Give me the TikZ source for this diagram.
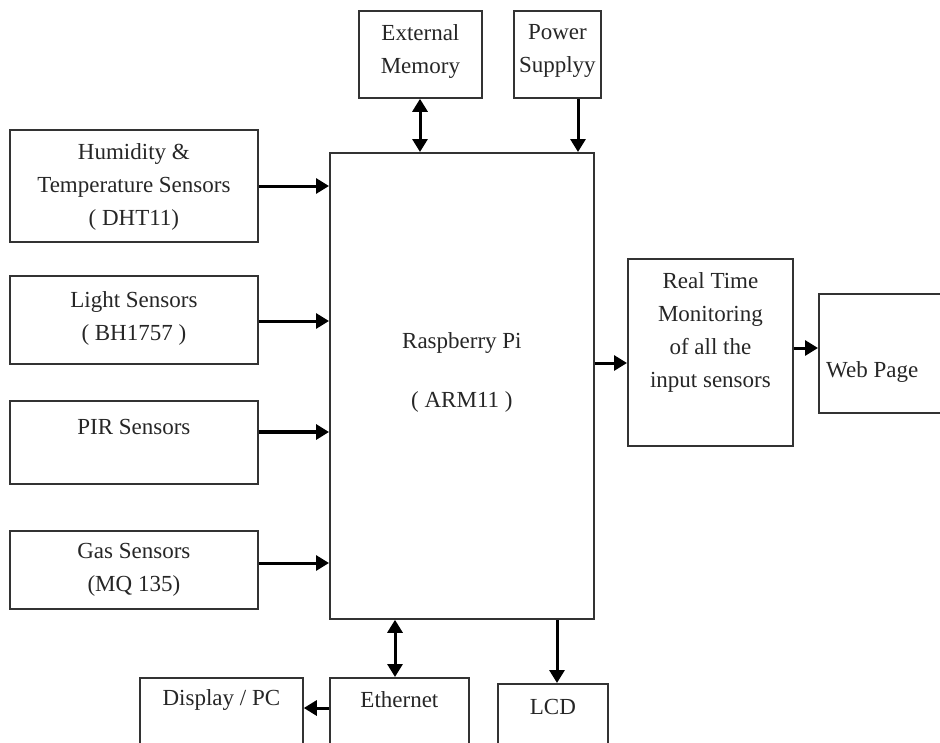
\documentclass[tikz,border=0pt]{standalone}
\usepackage{fontspec}
\setmainfont{Liberation Serif}
\usetikzlibrary{arrows.meta}
\begin{document}
\begin{tikzpicture}[x=1pt,y=-1pt,
  box/.style={draw=black!80, line width=1.8pt, inner sep=0pt, anchor=north west},
  txt/.style={align=center, font=\fontsize{23}{33}\selectfont, inner sep=0pt, text=black!85},
  arr/.style={line width=3pt, -{Triangle[length=13pt,width=15pt]}},
  darr/.style={line width=3pt, {Triangle[length=13pt,width=15pt]}-{Triangle[length=13pt,width=15pt]}}]
\useasboundingbox (0,0) rectangle (940,742);
\clip (0,0) rectangle (940,742);
% boxes
\node[box, minimum width=123pt, minimum height=87pt] (mem) at (358,10) {};
\node[box, minimum width=87pt, minimum height=87pt] (pow) at (513,10) {};
\node[box, minimum width=248pt, minimum height=112pt] (hum) at (9,129) {};
\node[box, minimum width=248pt, minimum height=88pt] (light) at (9,275) {};
\node[box, minimum width=248pt, minimum height=83pt] (pir) at (9,400) {};
\node[box, minimum width=248pt, minimum height=78pt] (gas) at (9,530) {};
\node[box, minimum width=264pt, minimum height=466pt] (rpi) at (329,152) {};
\node[box, minimum width=165pt, minimum height=187pt] (rtm) at (627,258) {};
\node[box, minimum width=160pt, minimum height=119pt] (web) at (818,293) {};
\node[box, minimum width=163pt, minimum height=100pt] (disp) at (139,677) {};
\node[box, minimum width=139pt, minimum height=100pt] (eth) at (329,677) {};
\node[box, minimum width=110pt, minimum height=100pt] (lcd) at (497,683) {};
% texts
\node[txt] (memt) at ([yshift=-41pt]mem.north) {External\\Memory};
\node[txt] (powt) at ([yshift=-41pt]pow.north) {Power\\Supplyy};
\node[txt] (humt) at ([yshift=-58pt]hum.north) {Humidity \&\\Temperature Sensors\\( DHT11)};
\node[txt] (lightt) at ([yshift=-43pt]light.north) {Light Sensors\\( BH1757 )};
\node[txt] (pirt) at ([yshift=-27pt]pir.north) {PIR Sensors};
\node[txt] (gast) at ([yshift=-40pt]gas.north) {Gas Sensors\\(MQ 135)};
\node[txt] (rpit) at ([yshift=-220pt]rpi.north) {Raspberry Pi\\[26pt]( ARM11 )};
\node[txt] (rtmt) at ([yshift=-74pt]rtm.north) {Real Time\\Monitoring\\of all the\\input sensors};
\node[txt, anchor=west] (webt) at ([xshift=8pt,yshift=-79pt]web.north west) {Web Page};
\node[txt] (dispt) at ([yshift=-23pt]disp.north) {Display / PC};
\node[txt] (etht) at ([yshift=-23pt]eth.north) {Ethernet};
\node[txt] (lcdt) at ([yshift=-24pt]lcd.north) {LCD};
% connector guides
\coordinate (y1) at (0,186);
\coordinate (y2) at (0,321);
\coordinate (y3) at (0,432);
\coordinate (y4) at (0,563);
\coordinate (y5) at (0,363);
\coordinate (y6) at (0,348);
\coordinate (y7) at (0,708);
\coordinate (x1) at (420,0);
\coordinate (x2) at (578,0);
\coordinate (x3) at (395,0);
\coordinate (x4) at (557,0);
% connectors
\draw[arr] (hum.east |- y1) -- (rpi.west |- y1);
\draw[arr] (light.east |- y2) -- (rpi.west |- y2);
\draw[arr, line width=4pt] (pir.east |- y3) -- (rpi.west |- y3);
\draw[arr] (gas.east |- y4) -- (rpi.west |- y4);
\draw[darr] (mem.south -| x1) -- (rpi.north -| x1);
\draw[arr] (pow.south -| x2) -- (rpi.north -| x2);
\draw[arr] (rpi.east |- y5) -- (rtm.west |- y5);
\draw[arr] (rtm.east |- y6) -- (web.west |- y6);
\draw[darr] (rpi.south -| x3) -- (eth.north -| x3);
\draw[arr] (rpi.south -| x4) -- (lcd.north -| x4);
\draw[arr] (eth.west |- y7) -- (disp.east |- y7);
\end{tikzpicture}
\end{document}
